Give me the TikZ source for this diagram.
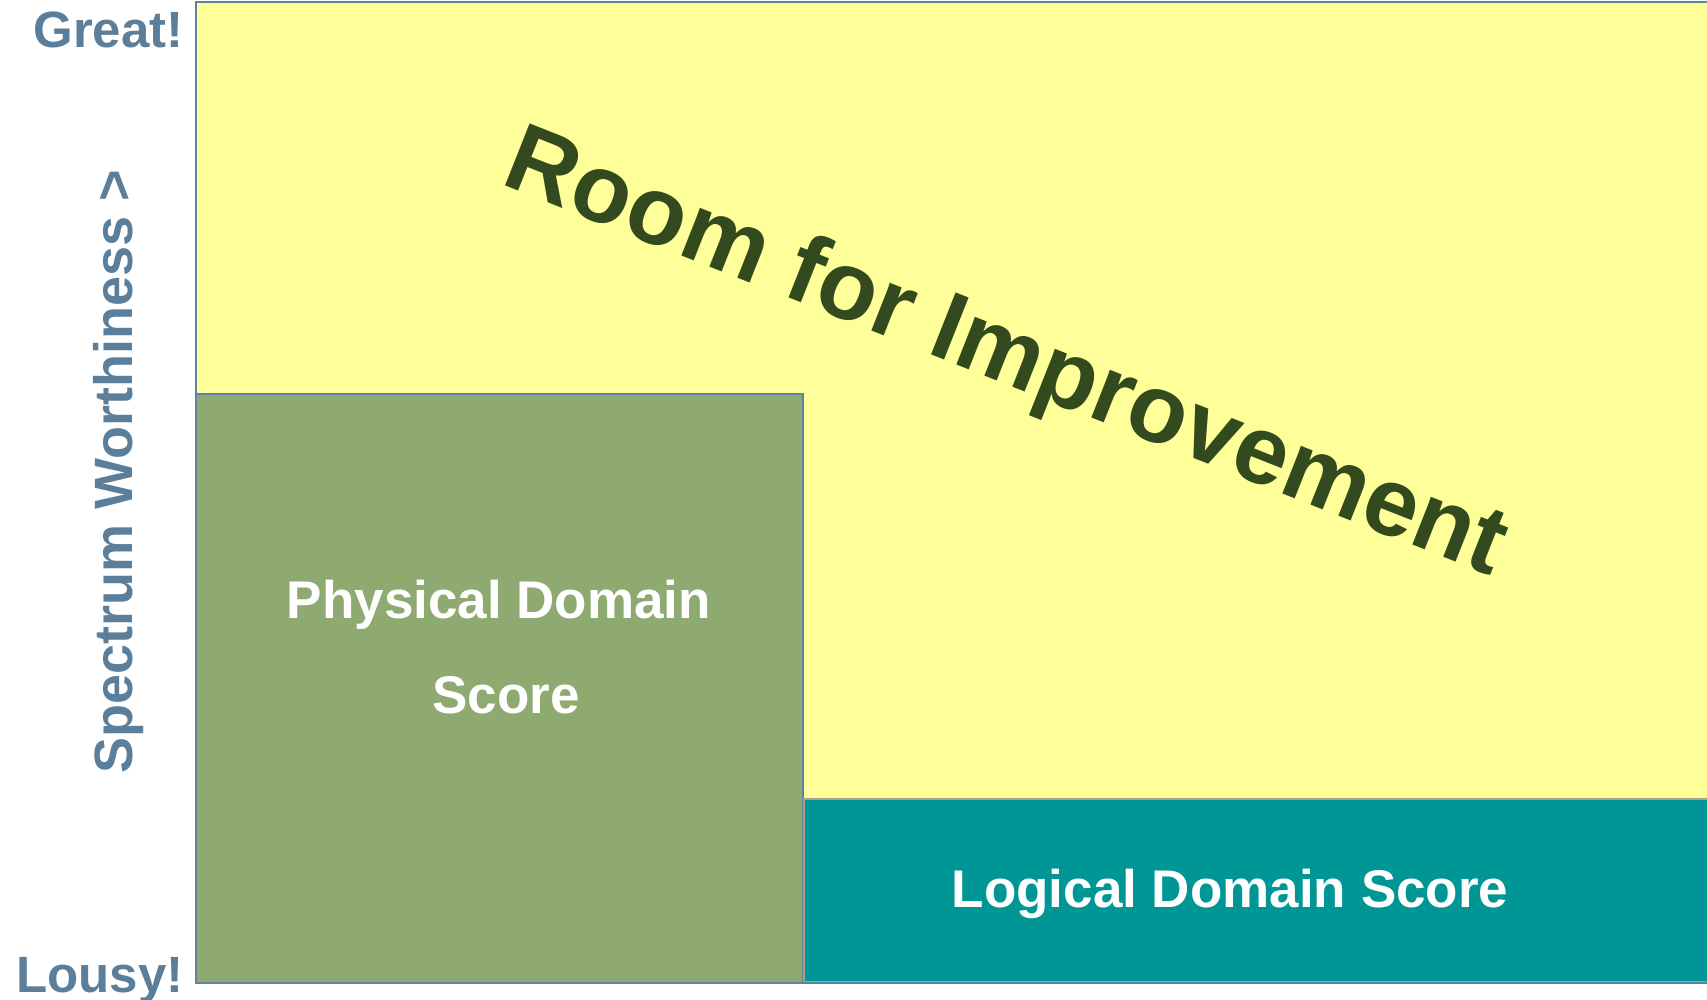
\documentclass[tikz,border=0pt]{standalone}
\usepackage{fontspec}
\setmainfont{Liberation Sans}
\usetikzlibrary{positioning}

\definecolor{paleyellow}{HTML}{FFFF99}
\definecolor{physgreen}{HTML}{8FAA70}
\definecolor{logteal}{HTML}{009696}
\definecolor{edgeblue}{HTML}{5F82A0}
\definecolor{axisblue}{HTML}{5B7E9A}
\definecolor{roomgreen}{HTML}{334A1E}

\begin{document}
\begin{tikzpicture}[x=0.5pt,y=-0.5pt,inner sep=0pt,
  box/.style={draw=edgeblue,line width=1pt},
  axislbl/.style={text=axisblue,font=\fontsize{25.5}{30}\selectfont\bfseries},
  score/.style={text=white,font=\fontsize{26.5}{32}\selectfont\bfseries,anchor=base}]
\useasboundingbox (0,0) rectangle (1707,1000);
%
\fill[paleyellow] (196,2) rectangle (1720,983);
\draw[box] (1720,2) -- (196,2) -- (196,983) -- (1720,983);
\filldraw[box,fill=physgreen] (196,394) rectangle (803,983);
\filldraw[draw=gray!80!yellow,line width=1pt,fill=logteal] (804,799) rectangle (1720,982);
\draw[box] (803,983) -- (1720,983);
%%
\node[axislbl,anchor=base east] (great) at (184,48) {Great!};
\node[axislbl,anchor=base east] (lousy) at (184,992) {Lousy!};
\node[axislbl,font=\fontsize{27}{32}\selectfont\bfseries,rotate=90,anchor=base] (axis) at (132,472) {Spectrum Worthiness >};
%
\node[score] (phys1) at (499,618) {Physical Domain};
\node[score] (phys2) at (506,713) {Score};
\node[score] (logic) at (1230,907) {Logical Domain Score};
%
\node[text=roomgreen,font=\fontsize{48.5}{54}\selectfont\bfseries,rotate=-21.6] (room) at (1005,357) {Room for Improvement};
\end{tikzpicture}
\end{document}
